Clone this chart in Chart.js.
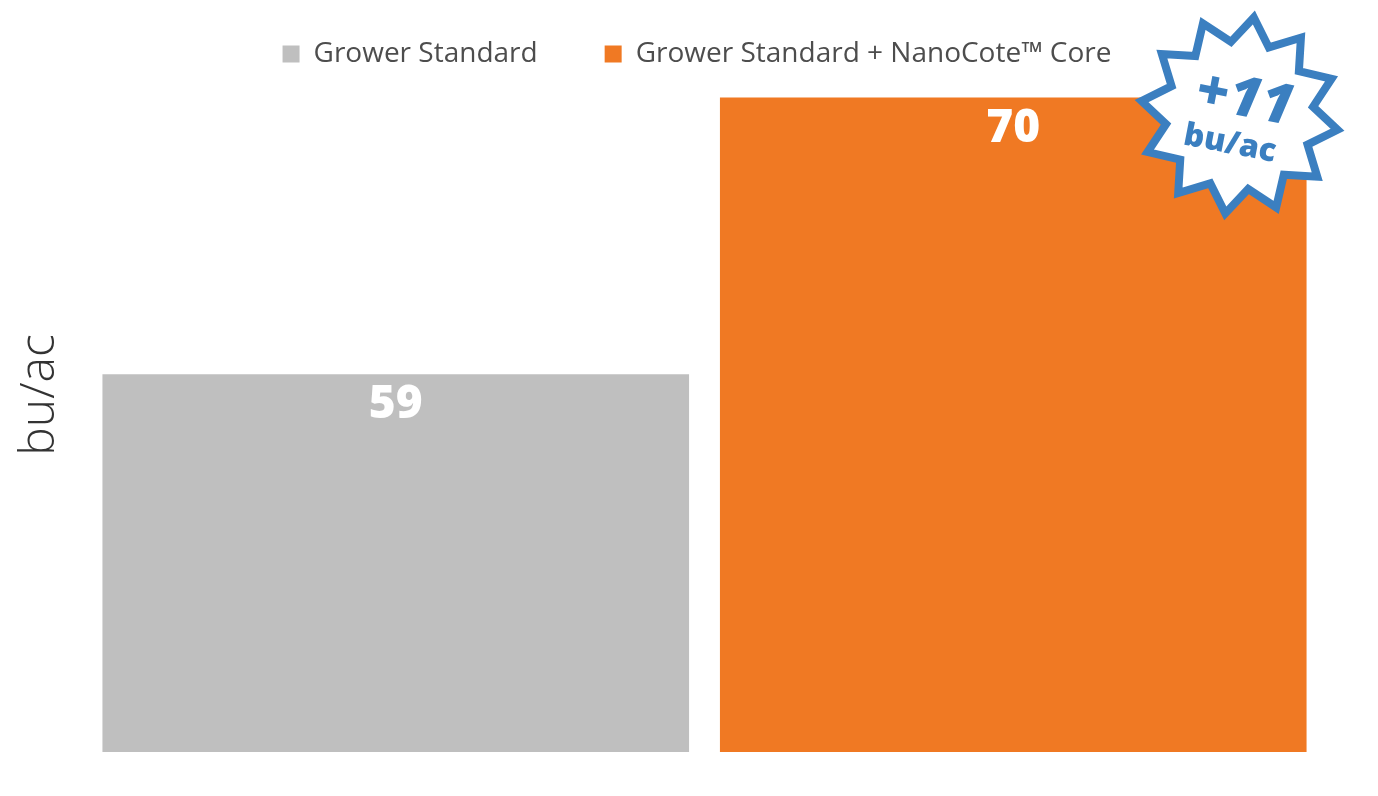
<!DOCTYPE html>
<html>
<head>
<meta charset="utf-8">
<script src="https://cdn.jsdelivr.net/npm/chart.js@4"></script>
<style>
  html, body { margin: 0; padding: 0; background: #ffffff; }
  #wrap { width: 1378px; height: 796px; position: relative; }
</style>
</head>
<body>
<div id="wrap"><canvas id="myChart"></canvas></div>
<script>
const categories = [""];
const seriesNames = ["Grower Standard", "Grower Standard + NanoCote\u2122 Core"];
const growerValues = [59];
const nanocoteValues = [70];
const barBase = 44;
const badgeLines = ["+11", "bu/ac"];
const axisTitle = "bu/ac";

const grey = "#bfbfbf";
const orange = "#f07923";
const blue = "#3b7fc0";

// legend items sit higher and a bit more right than the defaults put them
const legendShift = {
  id: "legendShift",
  afterLayout(chart) {
    const lg = chart.legend;
    if (!lg) return;
    lg.top = -27;
    lg.bottom = 92;
    lg.height = lg.bottom - lg.top;
    lg.left = 72;
    lg.width = lg.right - lg.left;
  }
};

// white value labels inside the top of each bar
const valueLabels = {
  id: "valueLabels",
  afterDatasetsDraw(chart) {
    const ctx = chart.ctx;
    ctx.save();
    ctx.fillStyle = "#ffffff";
    ctx.font = "800 46px 'Open Sans'";
    ctx.textAlign = "center";
    ctx.textBaseline = "middle";
    chart.data.datasets.forEach((ds, i) => {
      chart.getDatasetMeta(i).data.forEach((bar, j) => {
        ctx.fillText(String(ds.data[j]), bar.x, bar.y + 31);
      });
    });
    ctx.restore();
  }
};

// starburst badge hanging off the orange bar
const badge = {
  id: "badge",
  afterDraw(chart) {
    const bar = chart.getDatasetMeta(1).data[0];
    if (!bar) return;
    const right = bar.x + bar.width / 2;
    const cx = right - 67;
    const cy = bar.y + 18;
    const ctx = chart.ctx;
    const points = 12;
    const outer = 99, inner = 74;
    const start = -81.7 * Math.PI / 180;
    ctx.save();
    ctx.beginPath();
    for (let k = 0; k < points * 2; k++) {
      const r = k % 2 === 0 ? outer : inner;
      const a = start + k * Math.PI / points;
      const px = cx + r * Math.cos(a);
      const py = cy + r * Math.sin(a);
      if (k === 0) ctx.moveTo(px, py); else ctx.lineTo(px, py);
    }
    ctx.closePath();
    ctx.fillStyle = "#ffffff";
    ctx.fill();
    ctx.lineWidth = 8;
    ctx.lineJoin = "miter";
    ctx.strokeStyle = blue;
    ctx.stroke();

    ctx.translate(cx, cy);
    ctx.rotate(11 * Math.PI / 180);
    ctx.fillStyle = blue;
    ctx.textAlign = "center";
    ctx.textBaseline = "middle";
    ctx.font = "italic 800 56px 'Open Sans'";
    ctx.fillText(badgeLines[0], 2, -16);
    ctx.font = "800 32px 'Open Sans'";
    ctx.fillText(badgeLines[1], -4, 30);
    ctx.restore();
  }
};

const ctx = document.getElementById("myChart").getContext("2d");

const myChart = new Chart(ctx, {
  type: "bar",
  data: {
    labels: categories,
    datasets: [{
      label: seriesNames[0],
      data: growerValues,
      base: barBase,
      backgroundColor: grey,
      borderWidth: 0
    }, {
      label: seriesNames[1],
      data: nanocoteValues,
      base: barBase,
      backgroundColor: orange,
      borderWidth: 0
    }]
  },
  options: {
    responsive: true,
    maintainAspectRatio: false,
    animation: false,
    layout: {
      padding: { left: 0, right: 56, top: 0, bottom: 44 }
    },
    datasets: {
      bar: { categoryPercentage: 1, barPercentage: 0.95 }
    },
    scales: {
      x: { display: false },
      y: {
        min: 44,
        max: 72.36,
        ticks: { display: false },
        grid: { display: false },
        border: { display: false },
        title: {
          display: true,
          text: axisTitle,
          color: "#333333",
          font: { family: "'Open Sans'", size: 48, weight: 300 },
          padding: { top: 12, bottom: 0 }
        },
        afterFit(scale) { scale.width = 87; }
      }
    },
    plugins: {
      tooltip: { enabled: false },
      legend: {
        position: "top",
        align: "center",
        maxHeight: 38,
        labels: {
          boxWidth: 17,
          boxHeight: 17,
          padding: 67,
          color: "#4d4d4d",
          font: { family: "'Open Sans'", size: 28 }
        }
      }
    }
  },
  plugins: [legendShift, valueLabels, badge]
});
</script>
</body>
</html>
